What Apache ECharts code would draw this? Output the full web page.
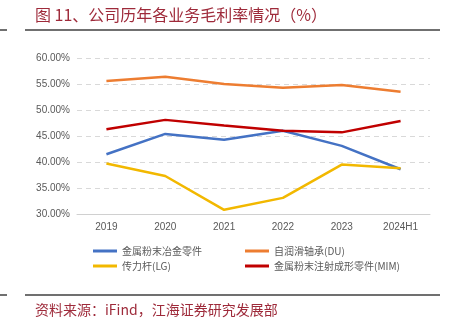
<!DOCTYPE html>
<html><head><meta charset="utf-8">
<script src="https://cdn.jsdelivr.net/npm/echarts@6/dist/echarts.min.js"></script>
<style>html,body{margin:0;padding:0;background:#fff}#c{width:451px;height:327px}</style>
</head><body><div id="c"></div>
<script>
const categories = ['2019','2020','2021','2022','2023','2024H1'];
const names = ['金属粉末冶金零件','自润滑轴承(DU)','传力杆(LG)','金属粉末注射成形零件(MIM)'];
const blueVals = [41.5, 45.4, 44.3, 46.0, 43.1, 38.6];
const orangeVals = [55.6, 56.4, 55.0, 54.3, 54.8, 53.5];
const yellowVals = [39.7, 37.3, 30.8, 33.1, 39.5, 38.8];
const redVals = [46.3, 48.1, 47.0, 46.0, 45.7, 47.9];
const yTicks = [30, 35, 40, 45, 50, 55, 60];
const colors = ['#4472C4', '#ED7D31', '#F2B800', '#C00000'];
const seriesVals = [blueVals, orangeVals, yellowVals, redVals];

const chart = echarts.init(document.getElementById('c'));
const legendPos = [[88, 241], [240, 241], [88, 256], [240, 256]];
chart.setOption({
  animation: false,
  textStyle: {fontFamily: 'Noto Sans CJK SC'},
  grid: {left: 77, right: 21, top: 58, bottom: 113},
  xAxis: {
    type: 'category', data: categories, boundaryGap: true,
    axisLine: {lineStyle: {color: '#d0d0d0', width: 1}},
    axisTick: {show: false},
    axisLabel: {color: '#595959', fontSize: 10, margin: 8, fontFamily: 'Liberation Sans'}
  },
  yAxis: {
    type: 'value', min: yTicks[0], max: yTicks[yTicks.length-1], interval: 5,
    axisLine: {show: false}, axisTick: {show: false},
    axisLabel: {color: '#595959', fontSize: 10, margin: 7, fontFamily: 'Liberation Sans',
      formatter: v => v.toFixed(2) + '%'},
    splitLine: {lineStyle: {color: '#d9d9d9', type: [5, 4], width: 1}}
  },
  legend: legendPos.map((p, i) => ({
    data: [names[i]], left: p[0], top: p[1], itemWidth: 24, itemHeight: 3, itemGap: 4,
    icon: 'rect', textStyle: {color: '#595959', fontSize: 10, fontFamily: 'Noto Sans CJK SC'}
  })),
  series: seriesVals.map((vals, i) => ({
    name: names[i], type: 'line', data: vals, symbol: 'none',
    lineStyle: {color: colors[i], width: 2.5}, itemStyle: {color: colors[i]}
  })),
  graphic: [
    {type: 'text', left: 35, top: 7, style: {text: '图 11、公司历年各业务毛利率情况（%）', fill: '#9e2a3a', font: '16px "Noto Sans CJK SC"'}},
    {type: 'line', shape: {x1: 0, y1: 30, x2: 7, y2: 30}, style: {stroke: '#404040', lineWidth: 1.5}},
    {type: 'line', shape: {x1: 25, y1: 30, x2: 440, y2: 30}, style: {stroke: '#404040', lineWidth: 1.5}},
    {type: 'line', shape: {x1: 0, y1: 295, x2: 7, y2: 295}, style: {stroke: '#404040', lineWidth: 1.5}},
    {type: 'line', shape: {x1: 25, y1: 295, x2: 440, y2: 295}, style: {stroke: '#404040', lineWidth: 1.5}},
    {type: 'text', left: 35, top: 303, style: {text: '资料来源：iFind，江海证券研究发展部', fill: '#9e2a3a', font: '14px "Noto Sans CJK SC"'}}
  ]
});
</script></body></html>
